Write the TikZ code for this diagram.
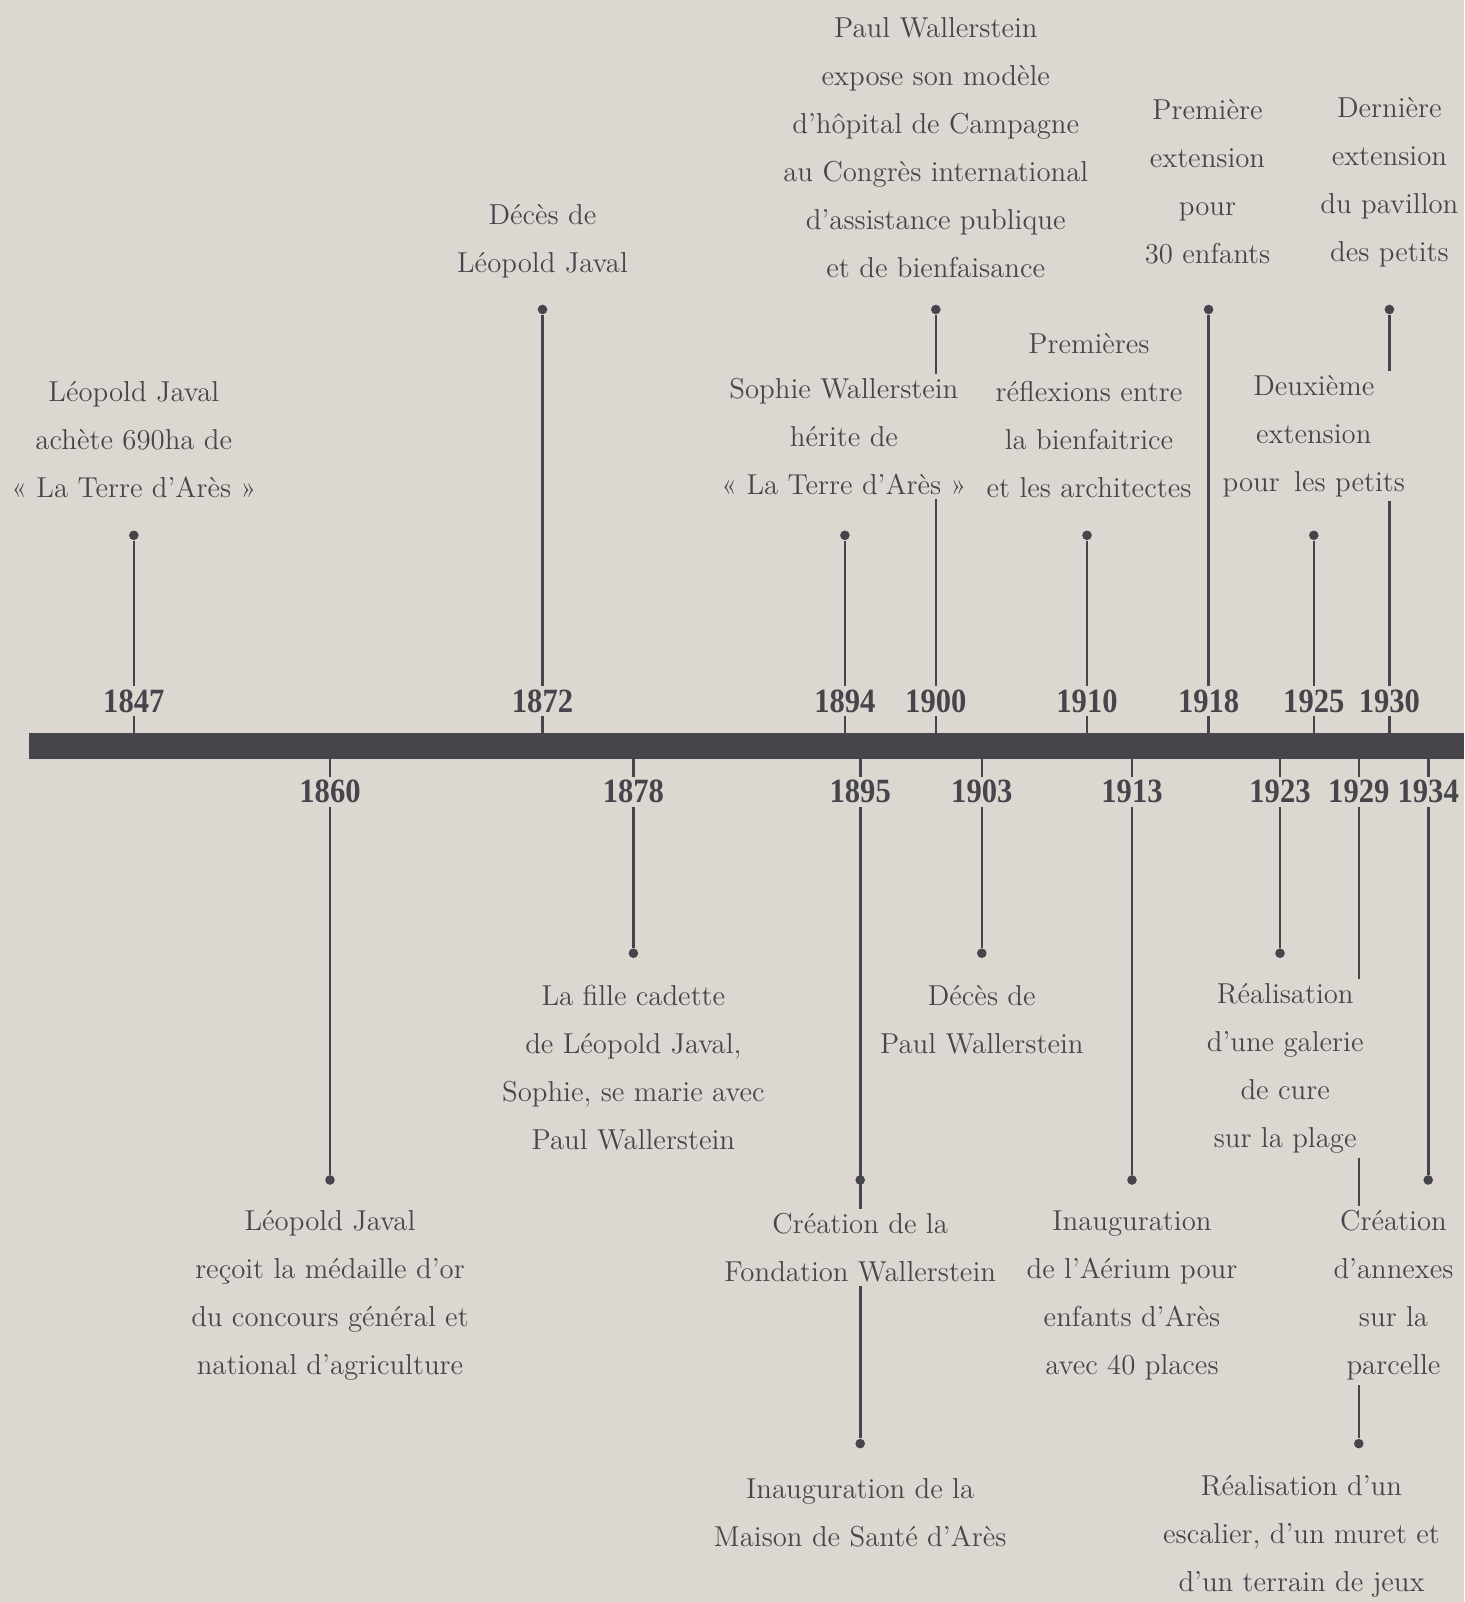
\documentclass[tikz,border=0pt]{standalone}
\usepackage{fontspec}
\newfontfamily\yearfont{Liberation Serif}[FakeStretch=0.9]
\definecolor{paper}{HTML}{DCD8D1}
\definecolor{ink}{HTML}{46454B}
\begin{document}
\begin{tikzpicture}[x=0.5pt,y=-0.5pt,
  year/.style = {font=\yearfont\bfseries\fontsize{17}{20}\selectfont,text=ink,inner sep=1.5pt},
  event/.style = {align=center,text=ink,font=\fontsize{14.4}{24}\selectfont,inner sep=2pt},
  stem/.style = {draw=ink,line width=1.3pt},
  pin/.style = {circle,fill=ink,inner sep=0pt,minimum size=4.8pt}]
\fill[paper] (0,0) rectangle (1464,1602);
\fill[ink] (28.6,733) rectangle (1464,759);
\coordinate (bartop) at (0,733);
\coordinate (barbot) at (0,759);
\foreach \yr/\xx in {1847/133.8, 1872/542.5, 1894/844.9, 1900/935.8, 1910/1087, 1918/1208.6, 1925/1313.8, 1930/1389.4}
  {\node[year] (y\yr) at (\xx,701) {\yr};
   \draw[stem] (y\yr.south) -- (y\yr.south |- bartop);}
\foreach \yr/\xx in {1860/330, 1878/633.4, 1895/860.2, 1903/981.8, 1913/1132, 1923/1280, 1929/1358.8, 1934/1428.2}
  {\node[year] (y\yr) at (\xx,791.8) {\yr};
   \draw[stem] (y\yr.north) -- (y\yr.north |- barbot);}

\node[event] (e1847) at (133.8,439.3) {Léopold Javal\\achète 690ha de\\« La Terre d’Arès »};
\node[event] (e1872) at (542.5,241.6) {Décès de\\Léopold Javal};
\node[event] (e1894) at (843.9,436.2) {Sophie Wallerstein\\hérite de\\« La Terre d’Arès »};
\node[event] (e1900) at (935.8,148.1) {Paul Wallerstein\\expose son modèle\\d’hôpital de Campagne\\au Congrès international\\d’assistance publique\\et de bienfaisance};
\node[event] (e1910) at (1089,415.3) {Premières\\réflexions entre\\la bienfaitrice\\et les architectes};
\node[event] (e1918) at (1207.5,181.8) {Première\\extension\\pour\\30 enfants};
\node[event] (e1925) at (1313.8,436.2) {Deuxième\\extension\\pour\enspace les petits};
\node[event] (e1930) at (1389.4,181.8) {Dernière\\extension\\du pavillon\\des petits};

\node[event] (e1860) at (330,1295.4) {Léopold Javal\\reçoit la médaille d’or\\du concours général et\\national d’agriculture};
\node[event] (e1878) at (633.4,1068.1) {La fille cadette\\de Léopold Javal,\\Sophie, se marie avec\\Paul Wallerstein};
\node[event] (e1895a) at (860.2,1247.4) {Création de la\\Fondation Wallerstein};
\node[event] (e1895b) at (860.2,1512.5) {Inauguration de la\\Maison de Santé d’Arès};
\node[event] (e1903) at (981.8,1020) {Décès de\\Paul Wallerstein};
\node[event] (e1913) at (1132,1295.4) {Inauguration\\de l’Aérium pour\\enfants d’Arès\\avec 40 places};
\node[event] (e1923) at (1285.2,1068.1) {Réalisation\\d’une galerie\\de cure\\sur la plage};
\node[event] (e1929) at (1301.5,1536.5) {Réalisation d’un\\escalier, d’un muret et\\d’un terrain de jeux};
\node[event] (e1934) at (1393.5,1295.4) {Création\\d’annexes\\sur la\\parcelle};

\foreach \yr/\xx/\yy in {1847/133.8/535.3, 1872/542.5/309.5, 1894/844.9/535.3, 1900/935.8/309.5, 1910/1087/535.3, 1918/1208.6/309.5, 1925/1313.8/535.3, 1930/1389.4/309.5,
    1860/330/1180, 1878/633.4/953.2, 1895/860.2/1180, 1903/981.8/953.2, 1913/1132/1180, 1923/1280/953.2, 1929/1358.8/1443.6, 1934/1428.2/1180}
  \node[pin] (d\yr) at (\xx,\yy) {};
\node[pin] (d1895b) at (860.2,1443.6) {};

\foreach \yr in {1847, 1872, 1894, 1910, 1918, 1925}
  \draw[stem] (d\yr) -- (y\yr.north);
\draw[stem] (d1900) -- (d1900 |- e1894.north);
\draw[stem] (d1900 |- e1894.south) -- (y1900.north);
\draw[stem] (d1930) -- (d1930 |- e1925.north);
\draw[stem] (d1930 |- e1925.south) -- (y1930.north);

\foreach \yr in {1860, 1878, 1903, 1913, 1923, 1934}
  \draw[stem] (y\yr.south) -- (d\yr);
\draw[stem] (y1895.south) -- (y1895.south |- e1895a.north);
\draw[stem] (y1895.south |- e1895a.south) -- (d1895b);
\draw[stem] (y1929.south) -- (y1929.south |- e1923.north);
\draw[stem] (y1929.south |- e1923.south) -- (y1929.south |- e1934.north);
\draw[stem] (y1929.south |- e1934.south) -- (d1929);
\end{tikzpicture}
\end{document}
